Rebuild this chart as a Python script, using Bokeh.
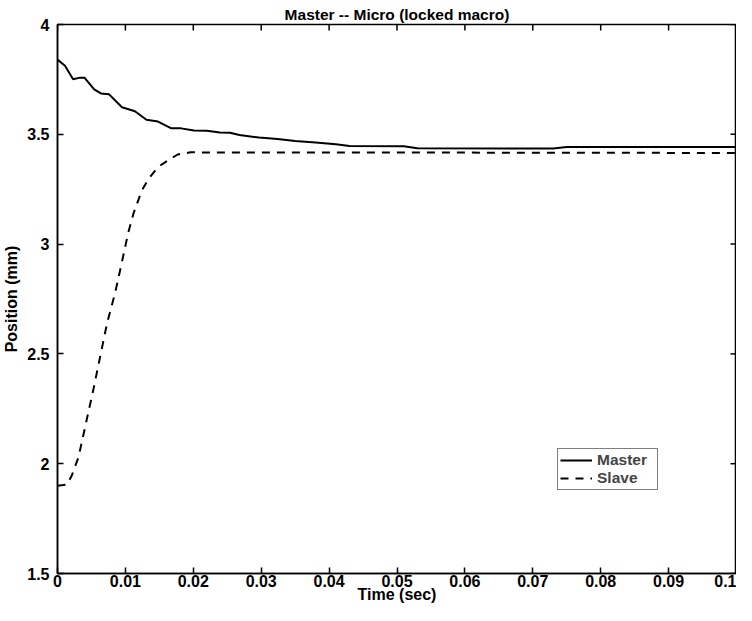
import math
from bokeh.plotting import figure
from bokeh.models import Range1d, FixedTicker, Legend, LegendItem
from bokeh.embed import file_html
from bokeh.resources import INLINE

# ---- data ----
master_t = [0, 0.0011, 0.0023, 0.0033, 0.0040, 0.0054, 0.0064, 0.0076, 0.0095, 0.0114,
            0.0131, 0.0148, 0.0167, 0.0182, 0.0201, 0.0220, 0.0239, 0.0254, 0.0268, 0.0297,
            0.0324, 0.035, 0.038, 0.041, 0.043, 0.051, 0.053, 0.073, 0.075, 0.1]
master_v = [3.84, 3.812, 3.751, 3.758, 3.757, 3.705, 3.686, 3.682, 3.623, 3.605,
            3.566, 3.558, 3.528, 3.527, 3.517, 3.516, 3.508, 3.507, 3.497, 3.485,
            3.479, 3.470, 3.463, 3.455, 3.447, 3.446, 3.436, 3.435, 3.442, 3.442]

slave_t = [0, 0.0014, 0.0021, 0.0031, 0.0043, 0.0053, 0.0063, 0.0073, 0.0085, 0.0095,
           0.0104, 0.0112, 0.0124, 0.0134, 0.0148, 0.0163, 0.0177, 0.0196, 0.0225, 0.05, 0.1]
slave_v = [1.90, 1.905, 1.946, 2.03, 2.20, 2.34, 2.49, 2.64, 2.78, 2.92,
           3.05, 3.14, 3.243, 3.297, 3.351, 3.382, 3.408, 3.418, 3.417, 3.417, 3.415]

x_ticks = [0, 0.01, 0.02, 0.03, 0.04, 0.05, 0.06, 0.07, 0.08, 0.09, 0.1]
x_tick_labels = ["0", "0.01", "0.02", "0.03", "0.04", "0.05", "0.06", "0.07", "0.08", "0.09", "0.1"]
y_ticks = [1.5, 2, 2.5, 3, 3.5, 4]
y_tick_labels = ["1.5", "2", "2.5", "3", "3.5", "4"]

title_text = "Master -- Micro (locked macro)"
x_label = "Time (sec)"
y_label = "Position (mm)"
series_names = ["Master", "Slave"]

FONT = "Liberation Sans"

x_min, x_max = x_ticks[0], x_ticks[-1]
y_min, y_max = y_ticks[0], y_ticks[-1]

p = figure(width=736, height=605,
           x_range=Range1d(x_min, x_max), y_range=Range1d(y_min, y_max),
           output_backend="svg", toolbar_location=None,
           min_border_left=52, min_border_right=0, min_border_top=24, min_border_bottom=20)
p.grid.visible = False
p.outline_line_color = "black"
p.outline_line_width = 1.5
p.background_fill_color = "white"
p.border_fill_color = "white"

p.title.text = title_text
p.title.align = "center"
p.title.text_font = FONT
p.title.text_font_size = "15.5px"
p.title.text_font_style = "bold"
p.title.text_color = "black"
p.title.standoff = 4
p.title.offset = -8

def style_axis(ax, ticks, labels):
    ax.ticker = FixedTicker(ticks=ticks)
    ax.major_tick_in = 6
    ax.major_tick_out = 0
    ax.minor_tick_line_color = None
    ax.axis_line_color = "black"
    ax.axis_line_width = 1.5
    ax.major_tick_line_color = "black"
    ax.major_tick_line_width = 1.5
    ax.major_label_text_font = FONT
    ax.major_label_text_font_style = "bold"
    ax.major_label_text_color = "black"
    ax.major_label_text_font_size = "16px"
    ax.major_label_overrides = {t: l for t, l in zip(ticks, labels)}

xa = p.xaxis[0]
style_axis(xa, x_ticks, x_tick_labels)
xa.major_label_standoff = 1
xa.axis_label = x_label
xa.axis_label_text_font = FONT
xa.axis_label_text_font_style = "bold"
xa.axis_label_text_font_size = "16px"
xa.axis_label_standoff = -4
xa.axis_label_text_color = "black"

ya = p.yaxis[0]
style_axis(ya, y_ticks, y_tick_labels)
ya.major_label_standoff = 8
ya.axis_label = y_label
ya.axis_label_text_font = FONT
ya.axis_label_text_font_style = "bold"
ya.axis_label_text_font_size = "16px"
ya.axis_label_standoff = 4
ya.axis_label_text_color = "black"

# inward ticks on the top and right edges of the box (6 screen px long)
p.ray(x=x_ticks, y=[y_max] * len(x_ticks), length=6, length_units="screen",
      angle=-math.pi / 2, line_color="black", line_width=1.5)
p.ray(x=[x_max] * len(y_ticks), y=y_ticks, length=6, length_units="screen",
      angle=math.pi, line_color="black", line_width=1.5)

r1 = p.line(master_t, master_v, line_color="black", line_width=2)
r2 = p.line(slave_t, slave_v, line_color="black", line_width=2, line_dash="8 7")

legend = Legend(items=[LegendItem(label=series_names[0], renderers=[r1]),
                       LegendItem(label=series_names[1], renderers=[r2])],
                location=(500, 83))
legend.border_line_color = "black"
legend.border_line_width = 1.5
legend.background_fill_color = "white"
legend.background_fill_alpha = 1
legend.label_text_font = FONT
legend.label_text_font_style = "bold"
legend.label_text_font_size = "15.5px"
legend.label_text_line_height = 0.85
legend.label_height = 14
legend.label_width = 58
legend.glyph_height = 14
legend.glyph_width = 32
legend.label_standoff = 5
legend.spacing = 0
legend.padding = 2
legend.margin = 0
p.add_layout(legend)

open("out.html", "w").write(file_html(p, INLINE))
